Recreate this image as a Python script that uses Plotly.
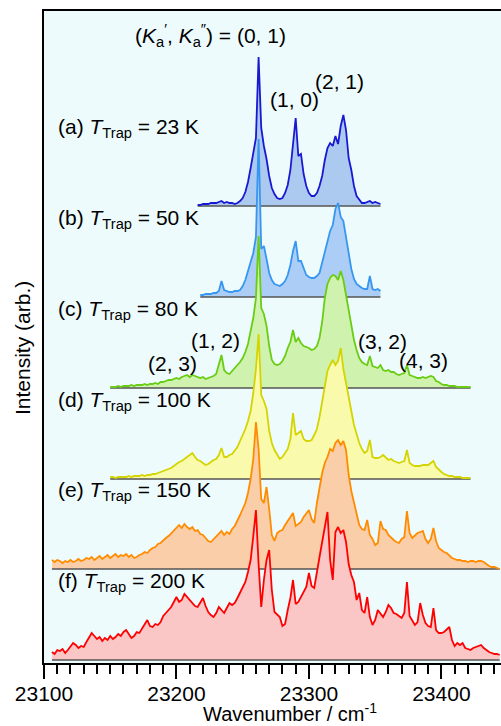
import numpy as np
import plotly.graph_objects as go

# ---------------- data ----------------
STEP = 2.0

LABELS = ["(a)", "(b)", "(c)", "(d)", "(e)", "(f)"]
TEMPS = ["23 K", "50 K", "80 K", "100 K", "150 K", "200 K"]
STARTS = [23216, 23218, 23150, 23150, 23106, 23106]

A_INT = [
    1, 1, 2, 2, 2, 3, 3, 3, 4, 5,
    3, 4, 3, 3, 2, 3, 5, 8, 14, 24,
    38, 52, 68, 149, 78, 60, 47, 30, 18, 12,
    8, 7, 8, 13, 21, 36, 60, 88, 50, 52,
    32, 20, 13, 10, 10, 13, 20, 30, 46, 58,
    63, 60, 70, 62, 80, 91, 76, 48, 36, 20,
    10, 6, 3, 3, 4, 5, 3, 4, 3, 2]

B_INT = [
    2, 2, 3, 3, 3, 4, 4, 6, 16, 7,
    6, 5, 5, 6, 6, 7, 11, 17, 26, 34,
    44, 60, 158, 48, 51, 38, 24, 17, 13, 12,
    11, 13, 16, 22, 32, 46, 56, 36, 36, 29,
    22, 20, 19, 19, 21, 24, 34, 46, 56, 66,
    72, 88, 94, 80, 76, 60, 42, 28, 18, 13,
    11, 9, 8, 8, 21, 8, 7, 8, 6]

C_INT = [
    1, 1, 1, 2, 1, 2, 2, 2, 3, 2,
    3, 3, 3, 4, 3, 4, 4, 5, 4, 6,
    6, 7, 8, 8, 9, 10, 9, 11, 12, 13,
    11, 13, 12, 11, 10, 11, 9, 10, 11, 12,
    14, 24, 33, 18, 15, 14, 17, 19, 22, 26,
    30, 36, 44, 56, 70, 90, 152, 80, 74, 62,
    42, 28, 24, 23, 24, 27, 32, 40, 46, 58,
    46, 50, 45, 42, 41, 40, 38, 39, 42, 50,
    66, 90, 104, 110, 113, 112, 108, 117, 108, 92,
    76, 62, 48, 38, 30, 26, 24, 23, 32, 22,
    21, 20, 23, 18, 17, 18, 16, 16, 14, 13,
    14, 15, 23, 13, 12, 11, 10, 10, 11, 10,
    11, 12, 11, 7, 6, 4, 3, 3, 2, 2,
    2, 1, 1, 1, 1, 1, 1]

D_INT = [
    2, 2, 1, 2, 2, 2, 2, 3, 2, 3,
    3, 3, 4, 3, 4, 4, 5, 5, 6, 7,
    8, 9, 10, 11, 13, 15, 17, 18, 20, 22,
    24, 26, 22, 19, 18, 16, 14, 15, 17, 19,
    20, 24, 31, 22, 22, 24, 25, 28, 32, 38,
    44, 50, 58, 68, 86, 110, 145, 84, 78, 70,
    48, 36, 29, 24, 20, 22, 26, 30, 40, 66,
    44, 46, 48, 40, 38, 38, 39, 44, 50, 62,
    78, 96, 108, 114, 119, 114, 118, 131, 110, 96,
    80, 68, 54, 44, 36, 30, 26, 28, 39, 22,
    21, 21, 22, 24, 21, 19, 20, 18, 17, 16,
    17, 18, 29, 16, 14, 13, 13, 13, 14, 14,
    14, 16, 18, 12, 9, 7, 5, 4, 3, 3,
    2, 2, 2, 1, 1, 1, 1]

E_INT = [
    9, 7, 9, 8, 6, 8, 7, 9, 7, 8,
    10, 8, 9, 11, 10, 12, 9, 11, 13, 10,
    12, 14, 11, 13, 15, 12, 14, 13, 15, 12,
    14, 11, 12, 14, 15, 17, 16, 19, 21, 22,
    25, 26, 29, 31, 33, 36, 38, 42, 44, 41,
    45, 42, 40, 42, 38, 39, 35, 34, 31, 28,
    27, 30, 33, 36, 38, 34, 37, 35, 40, 43,
    48, 54, 60, 66, 76, 90, 110, 147, 120, 70,
    66, 82, 60, 34, 28, 36, 38, 39, 44, 48,
    52, 56, 43, 45, 47, 52, 56, 59, 50, 46,
    66, 82, 96, 106, 112, 120, 118, 126, 129, 124,
    128, 119, 94, 78, 66, 56, 44, 40, 39, 49,
    34, 30, 24, 26, 48, 40, 39, 34, 31, 29,
    27, 26, 30, 32, 58, 36, 31, 34, 36, 37,
    38, 30, 26, 30, 41, 28, 21, 19, 17, 16,
    13, 11, 10, 9, 9, 8, 8, 7, 8, 8,
    7, 8, 8, 7, 5, 3, 2, 2, 1, 0]

F_INT = [
    8, 6, 10, 9, 11, 7, 10, 13, 17, 15,
    12, 14, 13, 18, 22, 27, 24, 21, 23, 19,
    22, 20, 24, 21, 23, 26, 24, 28, 30, 26,
    22, 24, 28, 27, 31, 36, 40, 34, 33, 36,
    35, 38, 44, 47, 50, 53, 58, 63, 58, 60,
    66, 63, 59, 57, 54, 53, 58, 62, 54, 48,
    45, 43, 47, 53, 50, 47, 52, 57, 55, 57,
    62, 67, 72, 78, 88, 100, 124, 150, 96, 53,
    80, 100, 110, 70, 48, 45, 43, 34, 36, 50,
    62, 80, 56, 58, 63, 68, 73, 87, 74, 72,
    90, 103, 118, 135, 148, 100, 80, 128, 133, 127,
    130, 118, 96, 85, 78, 60, 67, 50, 47, 63,
    43, 35, 40, 50, 46, 43, 48, 55, 52, 47,
    46, 44, 42, 47, 78, 44, 40, 35, 38, 57,
    45, 37, 34, 33, 52, 30, 27, 27, 28, 31,
    33, 20, 14, 17, 15, 17, 12, 11, 10, 12,
    13, 14, 15, 12, 10, 8, 7, 6, 6, 5]

INTENSITIES = [A_INT, B_INT, C_INT, D_INT, E_INT, F_INT]

PEAK_LABELS = ["(1, 0)", "(2, 1)", "(1, 2)", "(2, 3)", "(3, 2)", "(4, 3)"]

X_TICKS = [23100, 23200, 23300, 23400]

# ---------------- styling / layout ----------------
OFFSETS = [454, 363, 272, 181, 91, 0]
LINE_COLORS = ["rgb(25,25,210)", "rgb(55,150,240)", "rgb(105,205,20)",
               "rgb(212,212,0)", "rgb(255,140,0)", "rgb(255,0,0)"]
FILL_COLORS = ["rgb(172,202,240)", "rgb(172,206,246)", "rgb(208,242,175)",
               "rgb(250,250,172)", "rgb(250,206,168)", "rgb(250,198,198)"]
PEAK_POS = [(23288.9, 561), (23322.9, 579), (23229.3, 320),
            (23196.9, 297), (23355.3, 319), (23386.2, 300)]
FONT = "Liberation Sans, Arial, Helvetica, sans-serif"
FS = 21

fig = go.Figure()

for i in range(6):
    vals = np.array(INTENSITIES[i], dtype=float)
    xs = STARTS[i] + STEP * np.arange(len(vals))
    off = OFFSETS[i]
    ys = off + vals
    # filled area between spectrum and its baseline
    fig.add_trace(go.Scatter(
        x=np.concatenate([xs, [xs[-1], xs[0]]]),
        y=np.concatenate([ys, [off, off]]),
        fill="toself", fillcolor=FILL_COLORS[i],
        line=dict(width=0), mode="lines", hoverinfo="skip"))
    # baseline
    fig.add_trace(go.Scatter(
        x=[xs[0], xs[-1]], y=[off, off], mode="lines",
        line=dict(color="rgb(85,85,85)", width=1.4), hoverinfo="skip"))
    # spectrum
    fig.add_trace(go.Scatter(
        x=xs, y=ys, mode="lines",
        line=dict(color=LINE_COLORS[i], width=1.8), hoverinfo="skip"))

annotations = []
for i in range(6):
    annotations.append(dict(
        x=23108.7, y=OFFSETS[i] + 78, xref="x", yref="y",
        text=f"{LABELS[i]} <i>T</i><sub>Trap</sub> = {TEMPS[i]}",
        showarrow=False, xanchor="left", yanchor="middle",
        font=dict(size=FS, family=FONT, color="black")))

annotations.append(dict(
    x=23225.6, y=625, xref="x", yref="y",
    text="(<i>K</i><sub>a</sub><sup>′</sup>, <i>K</i><sub>a</sub><sup>″</sup>) = (0, 1)",
    showarrow=False, xanchor="center", yanchor="middle",
    font=dict(size=FS, family=FONT, color="black")))

for lab, (px, py) in zip(PEAK_LABELS, PEAK_POS):
    annotations.append(dict(
        x=px, y=py, xref="x", yref="y", text=lab, showarrow=False,
        xanchor="center", yanchor="middle",
        font=dict(size=FS, family=FONT, color="black")))

annotations.append(dict(
    x=-22 / 457, y=(663 - 348) / 652, xref="paper", yref="paper",
    text="Intensity (arb.)", textangle=-90, showarrow=False,
    xanchor="center", yanchor="middle",
    font=dict(size=FS, family=FONT, color="black")))

annotations.append(dict(
    x=(290 - 44) / 457, y=(663 - 727) / 652, xref="paper", yref="paper",
    text="Wavenumber / cm<sup>-1</sup>", showarrow=False,
    xanchor="center", yanchor="bottom",
    font=dict(size=20, family=FONT, color="black")))

fig.update_layout(
    width=501, height=726,
    margin=dict(l=44, r=0, t=11, b=63, autoexpand=False),
    paper_bgcolor="white", plot_bgcolor="rgb(238,251,253)",
    showlegend=False,
    font=dict(family=FONT, size=FS, color="black"),
    annotations=annotations,
    xaxis=dict(
        range=[23100, 23445], showline=True, linecolor="black",
        linewidth=1.5, mirror=True, ticks="outside", ticklen=14,
        tickwidth=1.5, tickcolor="black", tickvals=X_TICKS,
        ticktext=[str(t) for t in X_TICKS], showgrid=False, zeroline=False,
        ticklabelstandoff=-3,
        tickfont=dict(size=FS, family=FONT, color="black"),
        minor=dict(dtick=10, tick0=23100, ticks="outside", ticklen=9,
                   tickwidth=1.5, tickcolor="black", showgrid=False)),
    yaxis=dict(
        range=[-3, 649], showline=True, linecolor="black", linewidth=1.5,
        showticklabels=False, ticks="", showgrid=False, zeroline=False),
)

fig.write_html(
    "out.html", config={"displayModeBar": False},
    post_script="document.body.style.margin='0';"
                "document.body.style.overflow='hidden';")
